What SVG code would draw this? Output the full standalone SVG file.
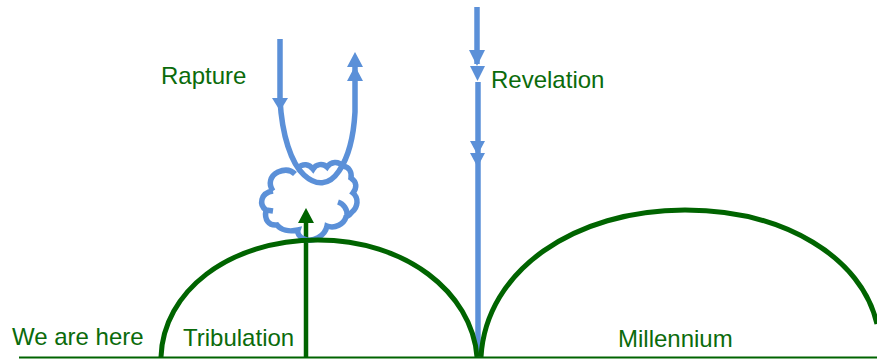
<svg xmlns="http://www.w3.org/2000/svg" width="877" height="359" viewBox="0 0 877 359">
<style>
.lbl{font-family:"Liberation Sans",Arial,sans-serif;font-size:24px;fill:#0b6b0b}
.blue{fill:none;stroke:#5b90d8;stroke-width:5.500}
.bluehead{fill:#5b90d8}
.green{fill:none;stroke:#006400;stroke-width:5}
</style>
<rect width="877" height="359" fill="#fff"/>
<g id="connectors">
<path d="M19 357.500H877" fill="none" stroke="#006400" stroke-width="2"/>
<path class="blue" d="M478 82V357"/>
<path class="blue" d="M477 7V64"/>
<path class="blue" d="M280 39V100C282 135 291 163 304 175C316 186 329 186 339 171C350 155 354 130 355 112V66"/>
<path class="bluehead" d="M272 98H288L280 111Z"/>
<path class="bluehead" d="M355 52L363 67H347Z"/>
<path class="bluehead" d="M355 66L363 81H347Z"/>
<path class="bluehead" d="M469 50H485L477 66Z"/>
<path class="bluehead" d="M470 66H485L477.500 81Z"/>
<path class="bluehead" d="M470 141H485L477.500 155Z"/>
<path class="bluehead" d="M470 153H485L477.500 167Z"/>
<path d="M306 357V222" fill="none" stroke="#006400" stroke-width="4.500"/>
<path d="M306 208L314 223H298Z" fill="#006400"/>
</g>
<g id="cloud"><path class="blue" d="M273 191C268 184 270 176 278 172C285 169 291 170 295 174M298 168C303 163 309 164 313 169A9 9 0 0 1 327 167A10 10 0 0 1 343 166C349 167 352 172 351 178C357 182 357 188 353 193C359 198 358 207 352 212C350 215 348 216 346 217C344 224 335 229 327 226C325 236 313 243 304 239C299 237 297 233 298 230C289 232 281 230 277 225C269 226 264 220 266 210C259 205 260 193 273 191M266 210L273 211"/><path class="blue" d="M338 202A13 13 0 0 1 347 215"/></g>
<g id="hill-tribulation"><path class="green" d="M161 357C163 292 228 240 318 240C405 240 472 292 477 357"/></g>
<g id="hill-millennium"><path class="green" d="M481 357C486 270 575 210 685 210C785 210 862 258 877 324"/></g>
<g id="rapture"><text class="lbl" x="161" y="84">Rapture</text></g>
<g id="revelation"><text class="lbl" x="491" y="88">Revelation</text></g>
<g id="we-are-here"><text class="lbl" x="12" y="345">We are here</text></g>
<g id="tribulation"><text class="lbl" x="183" y="346">Tribulation</text></g>
<g id="millennium"><text class="lbl" x="618" y="347">Millennium</text></g>
</svg>
